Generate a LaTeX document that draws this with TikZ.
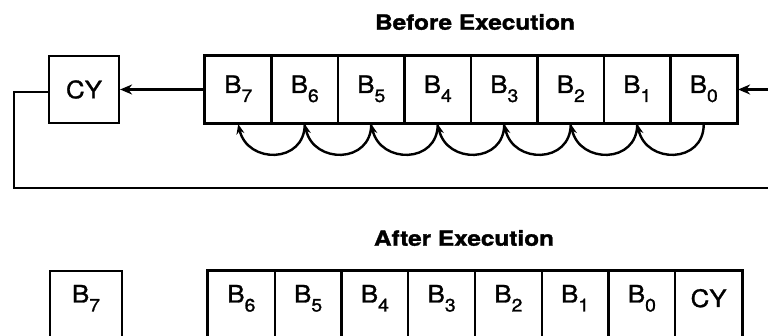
\documentclass[tikz,border=0pt]{standalone}
\usepackage{fontspec}
\setmainfont[FakeStretch=1.08,FakeBold=1.2]{TeX Gyre Heros}
\newfontfamily\titlefont[FakeStretch=1.16,FakeBold=1.5]{TeX Gyre Heros}
\usetikzlibrary{arrows.meta}
\newcommand{\bsub}[2]{#1\raisebox{-9pt}{\fontsize{18}{18}\selectfont #2}}
\begin{document}
\begin{tikzpicture}[x=1pt,y=-1pt,
  cellbox/.style={draw, line width=2.2pt, minimum width=66.5pt, minimum height=67pt,
     inner sep=0pt, font=\fontsize{24}{24}\selectfont, text height=17pt, text depth=10pt},
  lowcell/.style={draw, line width=2.2pt, minimum width=66.75pt, minimum height=67pt,
     inner sep=0pt, font=\fontsize{24}{24}\selectfont, text height=17pt, text depth=21pt},
  titletext/.style={font=\titlefont\fontsize{21}{21}\selectfont\bfseries, inner sep=0pt},
  conn/.style={line width=2.4pt},
  arr/.style={line width=2.4pt, -{Stealth[length=12pt,width=10pt]}}]
\useasboundingbox (0,0) rectangle (768,336);
\clip (0,0) rectangle (768,336);
\fill[white] (0,0) rectangle (768,336);

% titles
\node[titletext] (tb) at (475,22) {Before Execution};
\node[titletext] (ta) at (464,238) {After Execution};

% top register
\node[cellbox, minimum width=70pt, text height=, text depth=] (cy) at (84,89.5) {CY};
\foreach \i/\n in {0/7,1/6,2/5,3/4,4/3,5/2,6/1,7/0} {
  \node[cellbox] (t\n) at ({205+33.25+66.5*\i},89.5) {\bsub{B}{\n}};
}
% outer frame thicker
\draw[line width=2.6pt] (t7.north west) rectangle (t0.south east);

% arcs
\foreach \r/\l in {6/7,5/6,4/5,3/4,2/3,1/2,0/1} {
  \draw[line width=2.4pt, -{Stealth[length=10pt,width=8pt]}]
    (t\r.south) .. controls +(0,40) and +(9,40) .. (t\l.south);
}

% shifting arrows
\draw[arr] (t7.west) -- (cy.east);
\coordinate (rin) at (770,89.5);
\draw[arr] (rin) -- (t0.east);
\coordinate (lx) at (14,92);
\coordinate (rb) at (770,188);
\draw[conn] (cy.west |- lx) -- (lx) |- (rb);

% bottom
\node[lowcell, minimum width=72pt] (nb7) at (86,304.5) {\bsub{B}{7}};
\foreach \i/\n in {0/6,1/5,2/4,3/3,4/2,5/1,6/0} {
  \node[lowcell] (a\n) at ({208+33.375+66.75*\i},304.5) {\bsub{B}{\n}};
}
\node[lowcell, text depth=12pt] (acy) at ({208+33.375+66.75*7},304.5) {CY};
\draw[line width=2.6pt] (a6.north west) rectangle (acy.south east);
\end{tikzpicture}
\end{document}
